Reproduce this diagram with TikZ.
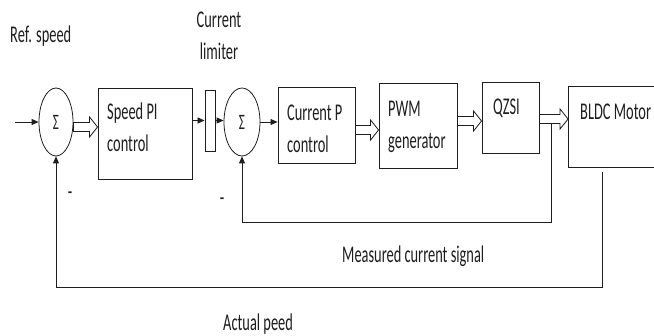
\documentclass[tikz,border=0pt]{standalone}
\usepackage{fontspec}
\usepackage{graphicx}
\setmainfont{Carlito}
\usetikzlibrary{arrows.meta,calc,positioning,shapes.geometric}
\definecolor{ink}{HTML}{1E1E1E}
\newcommand{\nar}[1]{\scalebox{0.6}[1]{#1}}
\tikzset{
  blk/.style={draw=ink,line width=0.9pt,minimum width=#1},
  blk/.default=60pt,
  sumj/.style={ellipse,draw=ink,line width=0.8pt,minimum width=34pt,minimum height=68pt,inner sep=0pt,text=ink,font=\fontsize{22}{26}\selectfont},
  sig/.style={ink,line width=0.8pt,-{Triangle[length=7pt,width=6pt]}},
  hollow/.style={draw=ink,line width=0.8pt,fill=white,
    to path={let \p1=(\tikztostart),\p2=(\tikztotarget) in
      (\x1,\y1+4.5pt) -- (\x2-8pt,\y1+4.5pt) -- (\x2-8pt,\y1+10pt) -- (\x2,\y1)
      -- (\x2-8pt,\y1-10pt) -- (\x2-8pt,\y1-4.5pt) -- (\x1,\y1-4.5pt) -- cycle}},
  lbl/.style={text=ink,inner sep=0pt,align=left,font=\fontsize{24}{32}\selectfont},
}
\begin{document}
\begin{tikzpicture}[x=1pt,y=-1pt]
  \useasboundingbox (0,0) rectangle (654,336);
  \clip (0,0) rectangle (654,336);
  % forward path
  \node[sumj] (s1) at (56,122) {\nar{Σ}};
  \node[blk=94pt,minimum height=91pt] (spi) at (145,133.5) {};
  \node[draw=ink,line width=0.9pt,minimum width=10pt,minimum height=61pt,inner sep=0pt] (lim) at (210,120.5) {};
  \node[sumj,minimum width=36pt] (s2) at (242,122) {\nar{Σ}};
  \node[blk=77pt,minimum height=76pt] (cp) at (316.5,125) {};
  \node[blk=78pt,minimum height=85pt] (pwm) at (418,125.5) {};
  \node[blk=57pt,minimum height=71pt] (qz) at (510.5,117.5) {};
  \node[blk=95pt,minimum height=81pt] (bldc) at (616,126.5) {};
  % block texts (base = last line)
  \node[lbl,anchor=base west] (spit) at (107,152) {\nar{Speed PI}\\\nar{control}};
  \node[lbl,anchor=base west] (cpt) at (287,153) {\nar{Current P}\\\nar{control}};
  \node[lbl,anchor=base west] (pwmt) at (388,149) {\nar{PWM}\\\nar{generator}};
  \node[lbl,anchor=base west] (qzt) at (493,115) {\nar{QZSI}};
  \node[lbl,anchor=base west] (bldct) at (580,120) {\nar{BLDC Motor}};
  \coordinate (in) at (15,122);
  \coordinate (h1) at ($(s1.east)+(0,5)$);
  \coordinate (h2) at ($(cp.east)+(0,5)$);
  \coordinate (h3) at ($(pwm.east)+(0,-4.5)$);
  \coordinate (h4) at ($(qz.east)+(0,1.5)$);
  \draw[sig] (in) -- (s1.west);
  \draw[hollow] (h1) to (spi.west);
  \draw[sig] (spi.east |- lim.west) -- (lim.west);
  \draw[sig] (lim.east) -- (lim.east -| s2.west);
  \draw[sig] (s2.east) -- (s2.east -| cp.west);
  \draw[hollow] (h2) to (pwm.west);
  \draw[hollow] (h3) to (qz.west);
  % feedback loops
  \coordinate (tap) at (551,119);
  \coordinate (mo) at (602,172);
  \draw[sig] (tap) -- ++(0,103) -| (s2.south);
  \draw[sig] (mo) -- ++(0,115) -| (s1.south);
  \draw[hollow] (h4) to (bldc.west);
  % labels
  \node[lbl,anchor=base west] (ref) at (10,43) {\nar{Ref. speed}};
  \node[lbl,anchor=base,align=center] (limtxt) at (219,60) {\nar{Current}\\\nar{limiter}};
  \node[lbl] (m1) at (70,196) {\nar{-}};
  \node[lbl] (m2) at (222,202) {\nar{-}};
  \node[lbl,anchor=base west] (mcs) at (342,263) {\nar{Measured current signal}};
  \node[lbl,anchor=base west] (asp) at (223,331) {\nar{Actual peed}};
\end{tikzpicture}
\end{document}
